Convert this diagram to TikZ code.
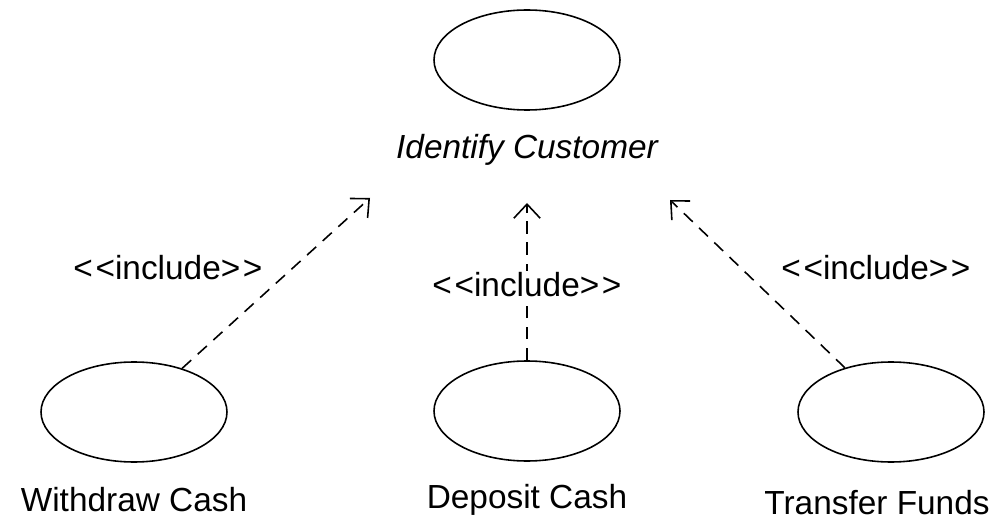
\documentclass[tikz,border=0pt]{standalone}
\usepackage{fontspec}
\setmainfont{Liberation Sans}
\usetikzlibrary{shapes.geometric,arrows.meta}

\newcommand{\inclabel}{<\kern1.5pt<include>\kern1.5pt>}

\begin{document}
\begin{tikzpicture}[
    usecase/.style={ellipse, draw, line width=0.9pt, minimum width=3.72cm, minimum height=2cm},
    ucname/.style={font=\fontsize{19}{22}\selectfont},
    stereo/.style={font=\fontsize{19}{22}\selectfont},
    incl/.style={line width=0.9pt, dash pattern=on 7pt off 5pt, -{Straight Barb[length=8pt,width=15pt]}}
  ]
  \useasboundingbox (0,0) rectangle (20.14,10.5);

  % ---------- base use case ----------
  \node[usecase] (idc) at (10.54, 9.3) {};
  \node[ucname, font=\fontsize{19}{22}\selectfont\itshape] (idcname) at (10.54, 7.5) {Identify Customer};

  % ---------- including use cases ----------
  \node[usecase] (wd) at (2.68, 2.26) {};
  \node[ucname] (wdname) at (2.68, 0.5) {Withdraw Cash};
  \node[usecase] (dp) at (10.54, 2.28) {};
  \node[ucname] (dpname) at (10.54, 0.5) {Deposit Cash};
  \node[usecase] (tf) at (17.82, 2.26) {};
  \node[ucname] (tfname) at (17.54, 0.45) {Transfer Funds};

  % arrow tips stop short of the name
  \coordinate (tipL) at (7.4, 6.54);
  \coordinate (tipM) at (10.54, 6.44);
  \coordinate (tipR) at (13.4, 6.5);

  \draw[incl] (wd) -- (tipL);
  \draw[incl] (dp) -- (tipM);
  \draw[incl] (tf) -- (tipR);

  % ---------- stereotype labels ----------
  \node[stereo] (inL) at (3.36, 5.14) {\inclabel};
  \node[stereo, fill=white, inner sep=1pt] (inM) at (10.54, 4.8) {\inclabel};
  \node[stereo] (inR) at (17.52, 5.14) {\inclabel};
\end{tikzpicture}
\end{document}
